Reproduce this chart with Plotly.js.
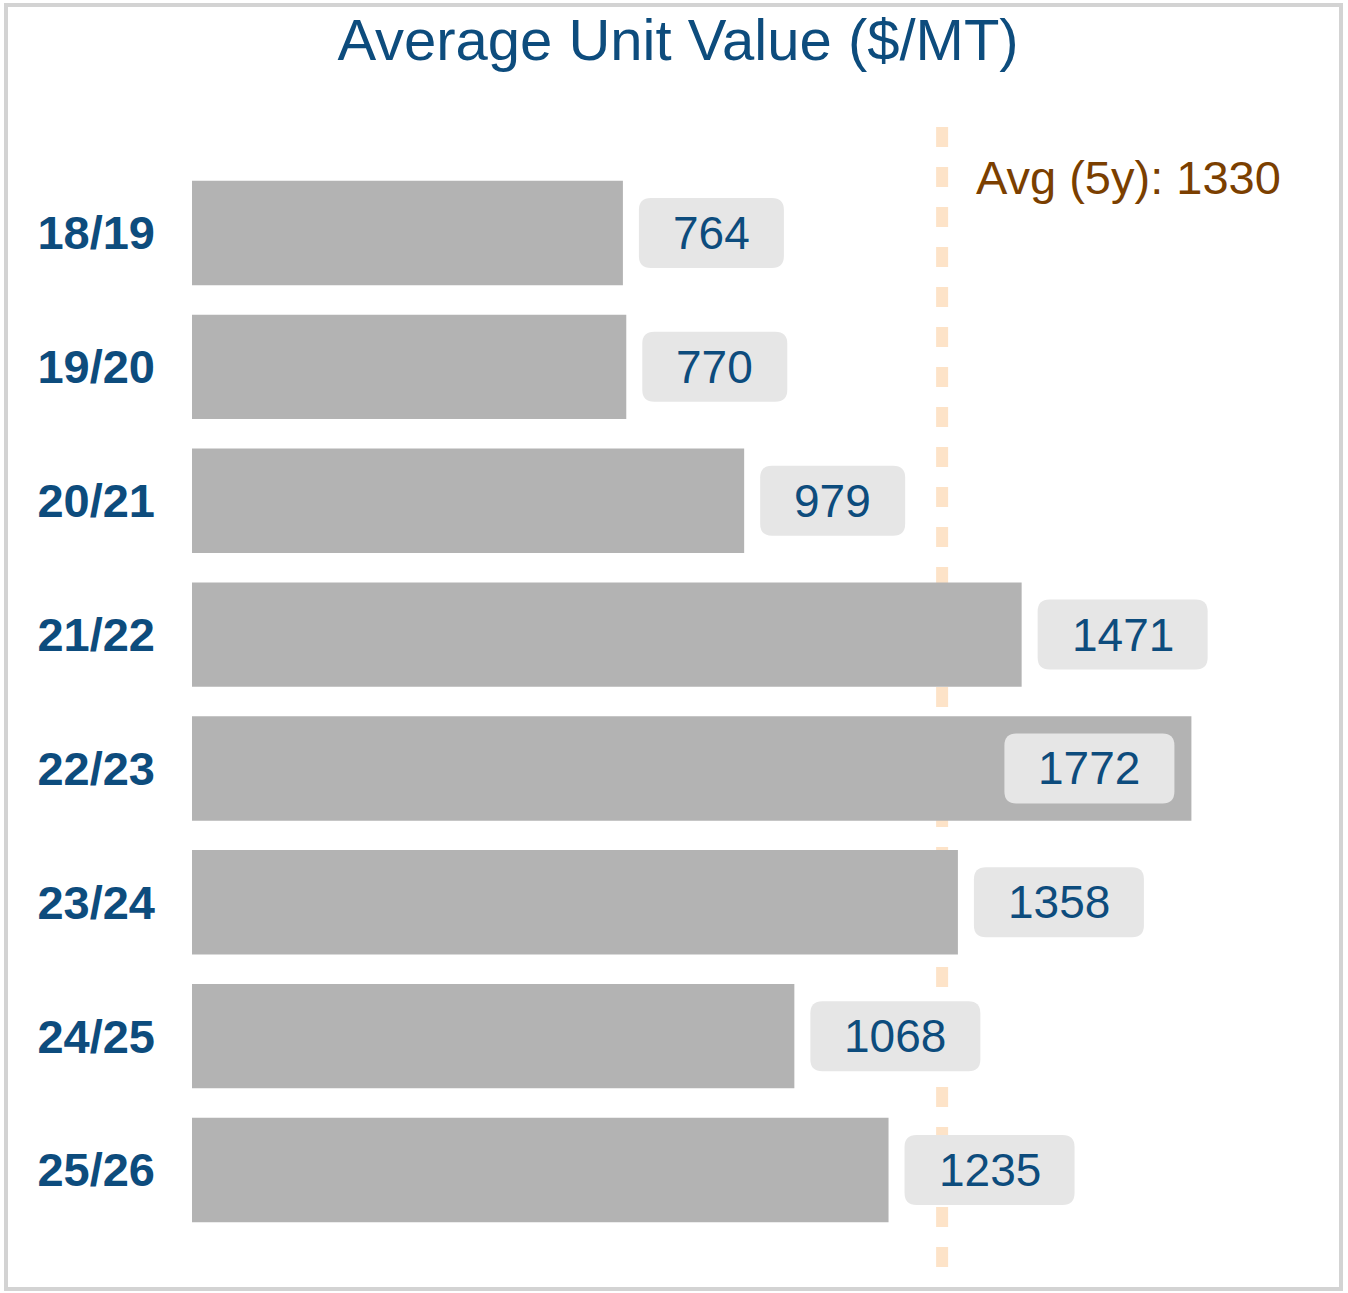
<!DOCTYPE html>
<html>
<head>
<meta charset="utf-8">
<script src="https://cdn.plot.ly/plotly-3.0.1.min.js"></script>
<style>
html,body{margin:0;padding:0;background:#fff;}
#wrap{position:relative;width:1348px;height:1293px;}
#chart{width:1348px;height:1293px;}
#frame{position:absolute;left:4px;top:3px;width:1331px;height:1280px;border:4px solid #d3d3d3;pointer-events:none;}
</style>
</head>
<body>
<div id="wrap"><div id="chart"></div><div id="frame"></div></div>
<script>
// ---- data ----
var seasons = ["18/19","19/20","20/21","21/22","22/23","23/24","24/25","25/26"];
var unitValues = [764, 770, 979, 1471, 1772, 1358, 1068, 1235];
var avgLabel = "Avg (5y)";
var avgValue = 1330;
var chartTitle = "Average Unit Value ($/MT)";

// ---- styling ----
var BLUE = "#0d4c7d";
var BROWN = "#7b3f00";
var W = 1348, H = 1293;
var margin = {l:192, r:28, t:127, b:25};
var xMax = 2000;
var labelFont = 46;
var plotW = W - margin.l - margin.r;
var scale = plotW / xMax;

function textWidth(s, px){
  var c = document.createElement("canvas").getContext("2d");
  c.font = px + "px 'Liberation Sans', Arial, sans-serif";
  return c.measureText(s).width;
}
function roundRect(x0, x1, y0, y1, r){
  return "M"+(x0+r)+","+y0+" L"+(x1-r)+","+y0+" Q"+x1+","+y0+" "+x1+","+(y0+r)+
         " L"+x1+","+(y1-r)+" Q"+x1+","+y1+" "+(x1-r)+","+y1+
         " L"+(x0+r)+","+y1+" Q"+x0+","+y1+" "+x0+","+(y1-r)+
         " L"+x0+","+(y0+r)+" Q"+x0+","+y0+" "+(x0+r)+","+y0+" Z";
}

var shapes = [];
var annotations = [];

// avg dashed line
shapes.push({type:"line", xref:"x", yref:"paper", x0:avgValue, x1:avgValue, y0:1, y1:0,
  line:{color:"#fde3c8", width:12, dash:"20px,20px"}, layer:"below"});

unitValues.forEach(function(v, i){
  var txt = String(v);
  var bw = Math.round(textWidth(txt, labelFont)) + 68;
  var barEndPx = v * scale;
  var inside = barEndPx + 16 + bw > plotW;
  var x0 = inside ? -17 - bw : 16;
  var x1 = x0 + bw;
  shapes.push({type:"path", xref:"x", yref:"y", xsizemode:"pixel", ysizemode:"pixel",
    xanchor:v, yanchor:i, path:roundRect(x0, x1, -35, 35, 12),
    fillcolor:"#e6e6e6", line:{width:0}, layer:"above"});
  annotations.push({x:v, y:i, xref:"x", yref:"y", text:txt, showarrow:false,
    xanchor:"center", yanchor:"middle", xshift:(x0+x1)/2, yshift:0,
    font:{family:"Liberation Sans, Arial, sans-serif", size:labelFont, color:BLUE}});
});

annotations.push({x:avgValue, xref:"x", y:1-(178-margin.t)/(H-margin.t-margin.b), yref:"paper",
  text:avgLabel + ": " + avgValue, showarrow:false, xanchor:"left", yanchor:"middle", xshift:32,
  font:{family:"Liberation Sans, Arial, sans-serif", size:47, color:BROWN}});

var trace = {
  type:"bar", orientation:"h",
  x: unitValues, y: seasons.map(function(s,i){return i;}),
  width: 0.78,
  marker:{color:"#b3b3b3", line:{width:0}},
  hoverinfo:"skip"
};

var layout = {
  width:W, height:H,
  margin:margin,
  paper_bgcolor:"#ffffff", plot_bgcolor:"#ffffff",
  showlegend:false,
  title:{text:chartTitle, x:678/W, xanchor:"center", xref:"container",
    y:1-40/H, yanchor:"middle", yref:"container",
    font:{family:"Liberation Sans, Arial, sans-serif", size:58, color:BLUE}},
  xaxis:{range:[0,xMax], visible:false, showgrid:false, zeroline:false, fixedrange:true},
  yaxis:{type:"linear", range:[7.732,-0.792], tickmode:"array",
    tickvals: seasons.map(function(s,i){return i;}), ticktext: seasons,
    showgrid:false, zeroline:false, showline:false, ticks:"", ticklabelstandoff:36,
    tickfont:{family:"Liberation Sans, Arial, sans-serif", size:47, color:BLUE, weight:"bold"},
    fixedrange:true},
  shapes:shapes,
  annotations:annotations
};

Plotly.newPlot("chart", [trace], layout, {displayModeBar:false, staticPlot:true});
</script>
</body>
</html>
